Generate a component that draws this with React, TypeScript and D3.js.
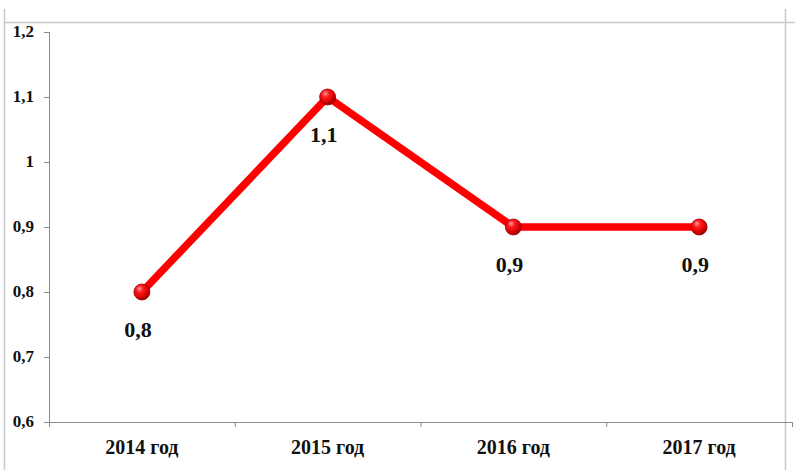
import React from "react";
import * as d3 from "d3";

const categories = ["2014 год", "2015 год", "2016 год", "2017 год"];
const values = [0.8, 1.1, 0.9, 0.9];
const valueLabels = ["0,8", "1,1", "0,9", "0,9"];
const yTicks = [0.6, 0.7, 0.8, 0.9, 1.0, 1.1, 1.2];
const yTickLabels = ["0,6", "0,7", "0,8", "0,9", "1", "1,1", "1,2"];

const W = 795;
const H = 470;
const left = 49;
const right = 792;
const top = 32;
const bottom = 422;
const font = "'Liberation Serif', 'Times New Roman', serif";

export default function App() {
  const x = d3.scaleBand<string>().domain(categories).range([left, right]).paddingInner(0).paddingOuter(0);
  const y = d3.scaleLinear().domain([0.6, 1.2]).range([bottom, top]);
  const line = d3
    .line<number>()
    .x((_, i) => (x(categories[i]) as number) + x.bandwidth() / 2)
    .y((d) => y(d));
  const boundaries = categories.map((c) => x(c) as number).concat([right]);

  return (
    <svg
      width={W}
      height={H}
      style={{ position: "absolute", left: 0, top: 0, display: "block", background: "#fff" }}
    >
      <defs>
        <radialGradient id="ball" cx="40%" cy="35%" r="65%" fx="35%" fy="28%">
          <stop offset="0%" stopColor="#ff9a9a" />
          <stop offset="35%" stopColor="#ff1a1a" />
          <stop offset="80%" stopColor="#d00000" />
          <stop offset="100%" stopColor="#900000" />
        </radialGradient>
      </defs>
      {/* frame */}
      <line x1={4.5} y1={9} x2={4.5} y2={H} stroke="#c8c8c8" strokeWidth={1.5} />
      <line x1={4} y1={22.5} x2={W} y2={22.5} stroke="#c8c8c8" strokeWidth={1.5} />
      <line x1={785.5} y1={9} x2={785.5} y2={H} stroke="#c8c8c8" strokeWidth={1.5} />

      {/* y axis */}
      <line x1={left + 0.5} y1={top} x2={left + 0.5} y2={bottom} stroke="#8a8a8a" strokeWidth={1} />
      {yTicks.map((t, i) => (
        <g key={t}>
          <line x1={left - 5} x2={left} y1={y(t) + 0.5} y2={y(t) + 0.5} stroke="#8a8a8a" />
          <text
            x={34}
            y={y(t) + 5}
            textAnchor="end"
            fontFamily={font}
            fontWeight="bold"
            fontSize={17}
            fill="#111"
          >
            {yTickLabels[i]}
          </text>
        </g>
      ))}

      {/* x axis */}
      <line x1={left} y1={bottom + 0.5} x2={right} y2={bottom + 0.5} stroke="#8a8a8a" />
      {boundaries.map((b, i) => (
        <line key={i} x1={b + 0.5} x2={b + 0.5} y1={bottom} y2={bottom + 5} stroke="#8a8a8a" />
      ))}
      {categories.map((c) => (
        <text
          key={c}
          x={(x(c) as number) + x.bandwidth() / 2}
          y={454}
          textAnchor="middle"
          fontFamily={font}
          fontWeight="bold"
          fontSize={20}
          fill="#111"
        >
          {c}
        </text>
      ))}

      {/* series */}
      <path d={line(values) as string} fill="none" stroke="#ff0000" strokeWidth={7.5} strokeLinejoin="round" />
      {values.map((v, i) => {
        const cx = (x(categories[i]) as number) + x.bandwidth() / 2;
        return (
          <g key={i}>
            <circle cx={cx} cy={y(v)} r={8} fill="url(#ball)" stroke="#a00000" strokeWidth={0.8} />
            <text
              x={cx - 4}
              y={y(v) + 45}
              textAnchor="middle"
              fontFamily={font}
              fontWeight="bold"
              fontSize={22}
              fill="#111"
            >
              {valueLabels[i]}
            </text>
          </g>
        );
      })}
    </svg>
  );
}
